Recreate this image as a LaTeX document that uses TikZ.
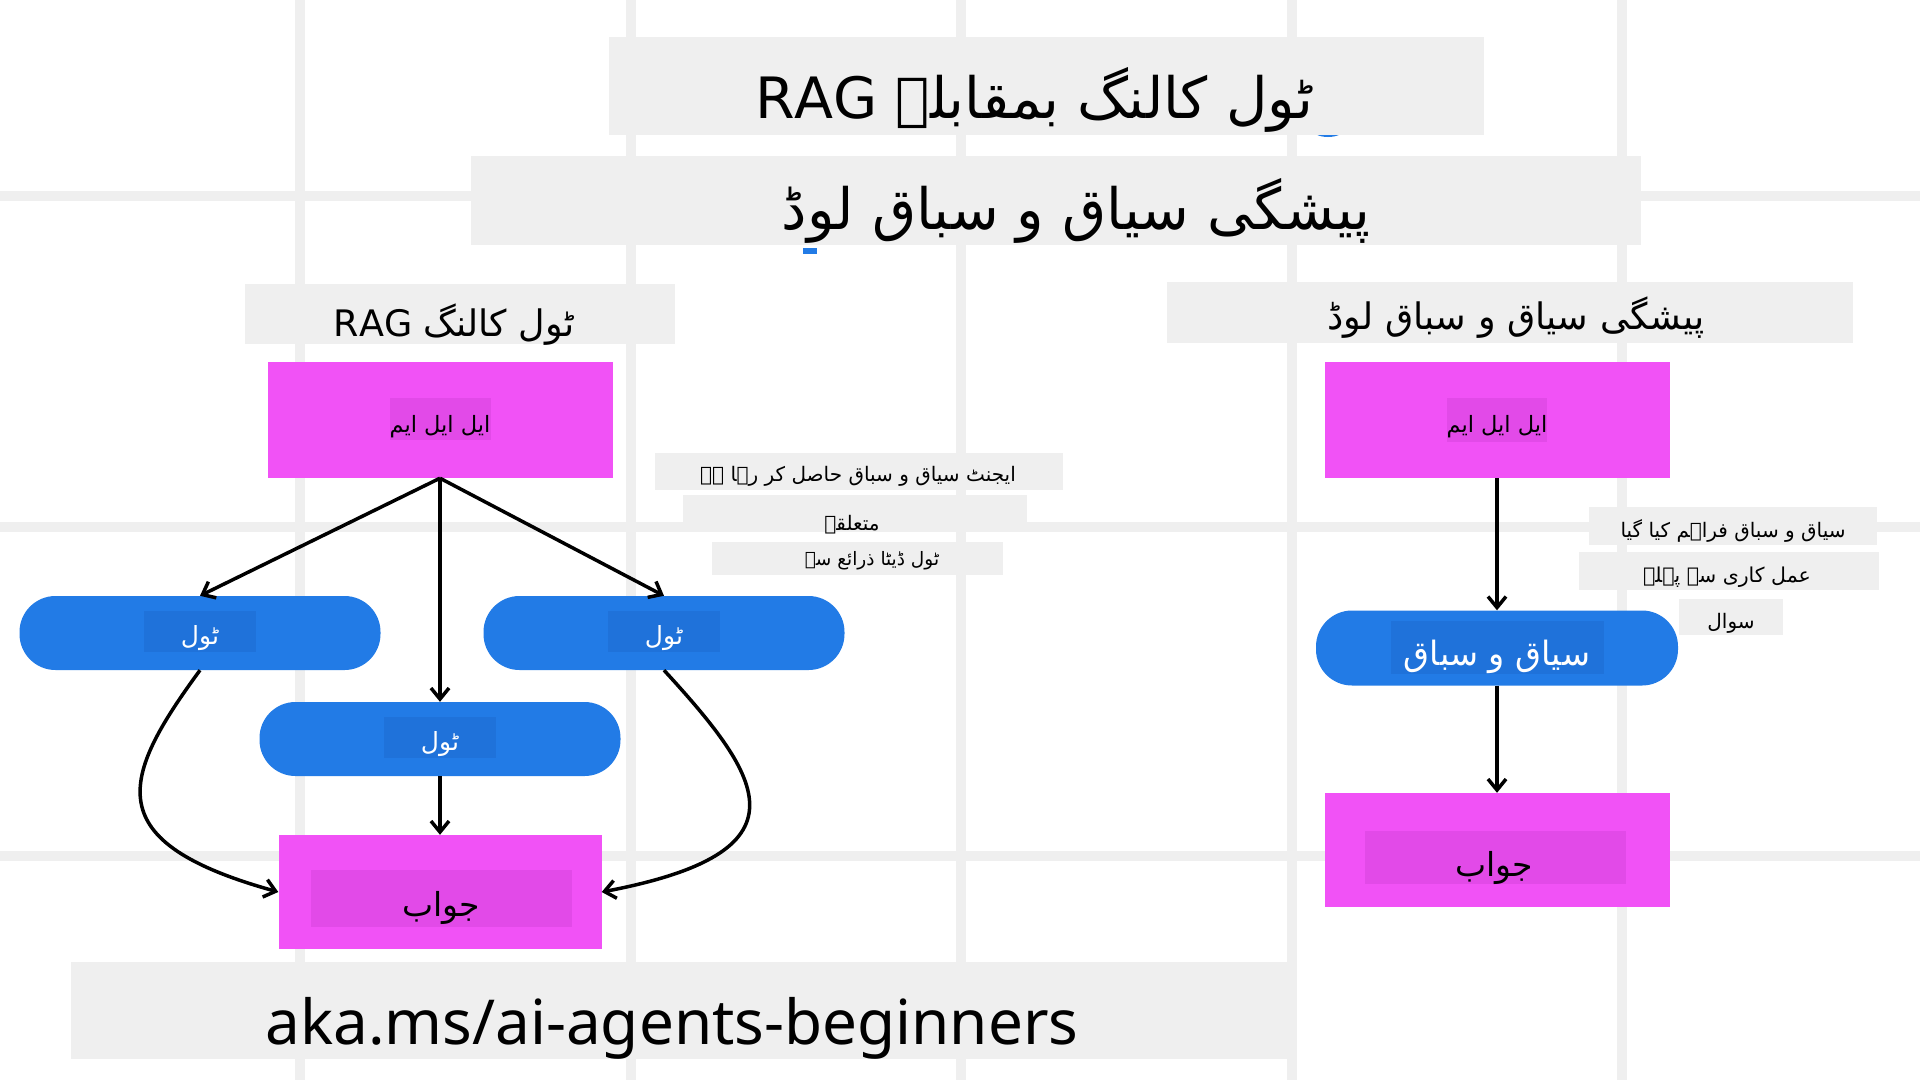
\documentclass[tikz,border=0pt]{standalone}
\usepackage{fontspec}
\setmainfont{Noto Sans}
\newfontfamily\urdu[Script=Arabic]{DejaVu Sans}
\TeXXeTstate=1
\usetikzlibrary{arrows.meta}

\definecolor{gridgray}{HTML}{EFEFEF}
\definecolor{bannergray}{HTML}{EFEFEF}
\definecolor{llmpink}{HTML}{F152F6}
\definecolor{tagpink}{HTML}{E24AE8}
\definecolor{toolblue}{HTML}{227BE6}
\definecolor{tagblue}{HTML}{1F72DA}

\newcommand{\urtext}[1]{{\urdu\beginR #1\endR}}
\newcommand{\ursize}[1]{\fontsize{#1}{#1}\selectfont}

\tikzset{
  gridline/.style={draw=gridgray, line width=10pt},
  banner/.style={fill=bannergray, inner sep=0pt},
  words/.style={inner sep=0pt, text=black},
  llmbox/.style={fill=llmpink, inner sep=0pt, minimum width=345pt, minimum height=116pt},
  pinktag/.style={fill=tagpink, inner sep=0pt},
  toolbox/.style={fill=toolblue, inner sep=0pt, rounded corners=36pt, minimum width=361pt, minimum height=74pt},
  bluetag/.style={fill=tagblue, inner sep=0pt},
  flow/.style={-{Straight Barb[length=11pt,width=18pt]}, line width=3.5pt},
}

\begin{document}
\begin{tikzpicture}[x=1pt, y=-1pt]
  \useasboundingbox[fill=white] (0,0) rectangle (1920,1080);
  % backdrop grid
  \foreach \gx in {300,631,961,1292,1622} {
    \draw[gridline] (\gx,0) -- (\gx,1080);
  }
  \foreach \gy in {196,527,856} {
    \draw[gridline] (0,\gy) -- (1920,\gy);
  }
  % stray blue marks
  \fill[toolblue] (1328,128) ellipse (17pt and 9pt);
  \fill[toolblue] (803,248) rectangle (817,254);

  % titles
  \node[banner, minimum width=875pt, minimum height=98pt] (title) at (1046,86) {};
  \node[words, font=\ursize{57}] (titletxt) at (1034,100) {\urtext{ٹول کالنگ بمقابلہ \beginL RAG\endL}};
  \node[banner, minimum width=1170pt, minimum height=89pt] (subtitle) at (1056,200) {};
  \node[words, font=\ursize{57}] (subtitletxt) at (1076,211) {\urtext{پیشگی سیاق و سباق لوڈ}};
  \node[banner, minimum width=430pt, minimum height=60pt] (headL) at (460,314) {};
  \node[words, font=\ursize{36.5}] (headLtxt) at (454,325) {\urtext{ٹول کالنگ \beginL RAG\endL}};
  \node[banner, minimum width=686pt, minimum height=61pt] (headR) at (1510,312) {};
  \node[words, font=\ursize{36.5}] (headRtxt) at (1516,318) {\urtext{پیشگی سیاق و سباق لوڈ}};

  % tool calling side
  \node[llmbox] (llmL) at (440,420) {};
  \node[pinktag, minimum width=101pt, minimum height=42pt] (llmLtag) at (440,419) {};
  \node[words, font=\ursize{22.5}] (llmLtxt) at (440,427) {\urtext{ایل ایل ایم}};
  \foreach \nm/\px/\py/\ty in {toolL/200/633/631, toolR/664/633/631, toolM/440/739/737} {
    \node[toolbox] (\nm) at (\px,\py) {};
    \node[bluetag, minimum width=112pt, minimum height=41pt] (\nm tag) at (\px,\ty) {};
    \node[words, text=white, font=\ursize{25}] (\nm txt) at (\px,\ty+7) {\urtext{ٹول}};
  }
  \node[llmbox, minimum width=323pt, minimum height=114pt] (ansL) at (440,892) {};
  \node[pinktag, minimum width=261pt, minimum height=57pt] (ansLtag) at (441,898) {};
  \node[words, font=\ursize{33}] (ansLtxt) at (441,908) {\urtext{جواب}};

  \draw[flow] (llmL.south) -- (toolL.north);
  \draw[flow] (llmL.south) -- (toolR.north);
  \draw[flow] (llmL.south) -- (toolM.north);
  \draw[flow] (toolM.south) -- (ansL.north);
  \draw[flow] (toolL.south) .. controls +(-80,109) and +(-180,-50) .. (ansL.west);
  \draw[flow] (toolR.south) .. controls +(100,109) and +(210,-40) .. (ansL.east);

  % notes, tool calling
  \node[banner, minimum width=408pt, minimum height=37pt] (noteA) at (859,471) {};
  \node[words, font=\ursize{20}] (noteAtxt) at (858,476) {\urtext{ایجنٹ سیاق و سباق حاصل کر رہا ہے}};
  \node[banner, minimum width=344pt, minimum height=37pt] (noteB) at (855,513) {};
  \node[words, font=\ursize{20}] (noteBtxt) at (852,525) {\urtext{متعلقہ}};
  \node[banner, minimum width=291pt, minimum height=33pt] (noteC) at (857,558) {};
  \node[words, font=\ursize{18.5}] (noteCtxt) at (872,561) {\urtext{ٹول ڈیٹا ذرائع سے}};

  % pre-loading side
  \node[llmbox] (llmR) at (1497,420) {};
  \node[pinktag, minimum width=100pt, minimum height=44pt] (llmRtag) at (1497,420) {};
  \node[words, font=\ursize{22.5}] (llmRtxt) at (1497,427) {\urtext{ایل ایل ایم}};
  \node[toolbox, minimum width=362pt, minimum height=75pt] (ctx) at (1497,648) {};
  \node[bluetag, minimum width=213pt, minimum height=53pt] (ctxtag) at (1497,647) {};
  \node[words, text=white, font=\ursize{33.5}] (ctxtxt) at (1497,657) {\urtext{سیاق و سباق}};
  \node[llmbox, minimum height=114pt] (ansR) at (1497,850) {};
  \node[pinktag, minimum width=261pt, minimum height=53pt] (ansRtag) at (1495,857) {};
  \node[words, font=\ursize{33}] (ansRtxt) at (1494,868) {\urtext{جواب}};

  \draw[flow] (llmR.south) -- (ctx.north);
  \draw[flow] (ctx.south) -- (ansR.north);

  % notes, pre-loading
  \node[banner, minimum width=288pt, minimum height=38pt] (noteD) at (1733,526) {};
  \node[words, font=\ursize{20}] (noteDtxt) at (1733,531) {\urtext{سیاق و سباق فراہم کیا گیا}};
  \node[banner, minimum width=300pt, minimum height=38pt] (noteE) at (1729,571) {};
  \node[words, font=\ursize{20.5}] (noteEtxt) at (1727,577) {\urtext{عمل کاری سے پہلے}};
  \node[banner, minimum width=104pt, minimum height=36pt] (noteF) at (1731,617) {};
  \node[words, font=\ursize{20}] (noteFtxt) at (1731,623) {\urtext{سوال}};

  % link
  \node[banner, minimum width=1221pt, minimum height=97pt] (link) at (681,1010) {};
  \node[words, font=\ursize{62}] (linktxt) at (672,1028) {aka.ms/ai-agents-beginners};
\end{tikzpicture}
\end{document}
